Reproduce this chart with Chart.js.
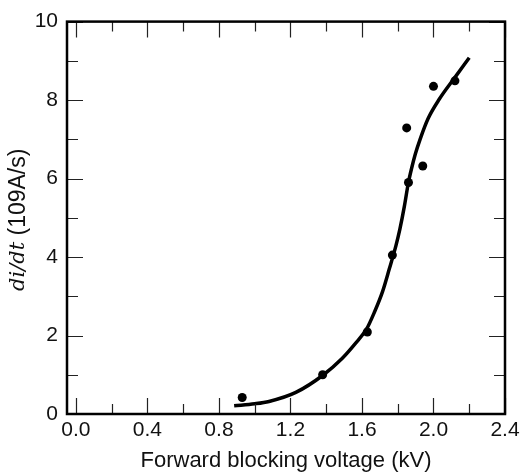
<!DOCTYPE html>
<html>
<head>
<meta charset="utf-8">
<script src="https://cdn.jsdelivr.net/npm/chart.js@4.4.1/dist/chart.umd.min.js"></script>
<style>
  html, body { margin: 0; padding: 0; background: #fff; }
  #wrap { width: 528px; height: 472px; }
</style>
</head>
<body>
<div id="wrap"><canvas id="chart"></canvas></div>
<script>
// measured points (kV, di/dt in 10^9 A/s)
const voltage = [0.93, 1.38, 1.63, 1.77, 1.85, 1.86, 1.94, 2.00, 2.12];
const didt = [0.42, 1.00, 2.09, 4.05, 7.29, 5.90, 6.32, 8.35, 8.49];

// fitted curve
const fitVoltage = [0.885, 1.00, 1.08, 1.23, 1.385, 1.49, 1.56, 1.625, 1.67, 1.715, 1.753, 1.790, 1.812, 1.837, 1.859, 1.877, 1.898, 1.925, 1.970, 2.032, 2.117, 2.200];
const fitDidt = [0.21, 0.26, 0.32, 0.55, 1.00, 1.42, 1.78, 2.16, 2.60, 3.12, 3.70, 4.29, 4.71, 5.29, 5.88, 6.25, 6.62, 7.00, 7.53, 8.02, 8.56, 9.08];

// axis ticks
const xTicks = [0, 0.2, 0.4, 0.6, 0.8, 1.0, 1.2, 1.4, 1.6, 1.8, 2.0, 2.2, 2.4];
const xLabels = ['0.0', '', '0.4', '', '0.8', '', '1.2', '', '1.6', '', '2.0', '', '2.4'];
const yTicks = [0, 1, 2, 3, 4, 5, 6, 7, 8, 9, 10];
const yLabels = ['0', '', '2', '', '4', '', '6', '', '8', '', '10'];

const sans = "'Liberation Sans', Arial, sans-serif";

// inward ticks on all four sides + heavy frame
const frameTicks = {
    id: 'frameTicks',
    afterDraw(chart) {
        const { ctx, chartArea: a, scales: { x, y } } = chart;
        ctx.save();
        ctx.strokeStyle = '#222';
        ctx.lineWidth = 1.2;
        ctx.beginPath();
        xTicks.forEach((v, i) => {
            const px = Math.round(x.getPixelForValue(v)) + 0.5;
            const len = xLabels[i] ? 16 : 10;
            ctx.moveTo(px, a.bottom); ctx.lineTo(px, a.bottom - len);
            ctx.moveTo(px, a.top); ctx.lineTo(px, a.top + len);
        });
        yTicks.forEach((v, i) => {
            const py = Math.round(y.getPixelForValue(v)) + 0.5;
            const len = yLabels[i] ? 16 : 11;
            ctx.moveTo(a.left, py); ctx.lineTo(a.left + len, py);
            ctx.moveTo(a.right, py); ctx.lineTo(a.right - len, py);
        });
        ctx.stroke();
        ctx.lineWidth = 2.5;
        ctx.strokeStyle = '#000';
        ctx.strokeRect(a.left, a.top, a.right - a.left, a.bottom - a.top);
        ctx.restore();
    }
};

// y title with italic math part
const yTitle = {
    id: 'yTitle',
    afterDraw(chart) {
        const { ctx, chartArea: a } = chart;
        const part1 = 'di/dt';
        const part2 = ' (109A/s)';
        const f1 = "italic 21px 'DejaVu Serif', 'Liberation Serif', serif";
        const f2 = "23px " + sans;
        ctx.save();
        ctx.font = f1; const w1 = ctx.measureText(part1).width;
        ctx.font = f2; const w2 = ctx.measureText(part2).width;
        ctx.translate(19, (a.top + a.bottom) / 2 + 2);
        ctx.rotate(-Math.PI / 2);
        ctx.fillStyle = '#111';
        ctx.textBaseline = 'middle';
        ctx.textAlign = 'left';
        const start = -(w1 + w2) / 2;
        ctx.font = f1; ctx.fillText(part1, start, 0);
        ctx.font = f2; ctx.fillText(part2, start + w1, 0);
        ctx.restore();
    }
};

new Chart(document.getElementById('chart'), {
    type: 'scatter',
    data: {
        datasets: [
            {
                label: 'fit',
                type: 'line',
                data: fitVoltage.map((v, i) => ({ x: v, y: fitDidt[i] })),
                borderColor: '#000',
                borderWidth: 3.5,
                pointRadius: 0,
                fill: false,
                cubicInterpolationMode: 'monotone',
                borderCapStyle: 'butt'
            },
            {
                label: 'measured',
                data: voltage.map((v, i) => ({ x: v, y: didt[i] })),
                backgroundColor: '#000',
                borderColor: '#000',
                pointRadius: 4.5,
                borderWidth: 0
            }
        ]
    },
    options: {
        responsive: true,
        maintainAspectRatio: false,
        animation: false,
        layout: { padding: { top: 16, right: 23, left: 0, bottom: 0 } },
        plugins: {
            legend: { display: false },
            tooltip: { enabled: false }
        },
        scales: {
            x: {
                type: 'linear',
                min: -0.05,
                max: 2.4,
                afterBuildTicks: s => { s.ticks = xTicks.map(v => ({ value: v })); },
                afterFit: s => { s.height = 58; },
                grid: { display: false, drawTicks: false },
                border: { display: false },
                ticks: {
                    autoSkip: false,
                    maxRotation: 0,
                    padding: 4,
                    color: '#111',
                    font: { family: sans, size: 21 },
                    callback: (v, i) => xLabels[i]
                },
                title: {
                    display: true,
                    text: 'Forward blocking voltage (kV)',
                    color: '#111',
                    font: { family: sans, size: 22 },
                    padding: { top: 0, bottom: -2 }
                }
            },
            y: {
                type: 'linear',
                min: 0,
                max: 10,
                afterBuildTicks: s => { s.ticks = yTicks.map(v => ({ value: v })); },
                afterFit: s => { s.width = 67; },
                grid: { display: false, drawTicks: false },
                border: { display: false },
                ticks: {
                    autoSkip: false,
                    padding: 9,
                    color: '#111',
                    font: { family: sans, size: 21 },
                    callback: (v, i) => yLabels[i]
                }
            }
        }
    },
    plugins: [frameTicks, yTitle]
});
</script>
</body>
</html>
